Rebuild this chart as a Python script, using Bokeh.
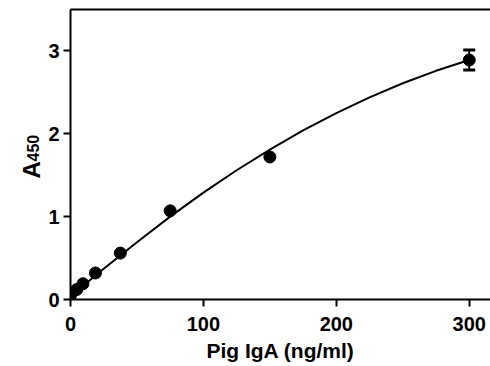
from bokeh.plotting import figure
from bokeh.models import Range1d, LinearAxis, FixedTicker, Whisker, ColumnDataSource, Label, TeeHead
from bokeh.embed import file_html
from bokeh.resources import INLINE
import math

# Data
conc = [0, 4.69, 9.38, 18.75, 37.5, 75, 150, 300]
a450 = [0.05, 0.12, 0.19, 0.32, 0.56, 1.07, 1.72, 2.89]
sem = [0.0, 0.0, 0.0, 0.0, 0.0, 0.0, 0.0, 0.12]

fit_x = [0, 25, 50, 75, 100, 125, 150, 175, 200, 225, 250, 275, 300]
fit_y = [0.04, 0.37, 0.69, 1.00, 1.29, 1.56, 1.81, 2.04, 2.25, 2.44, 2.61, 2.76, 2.89]

x_ticks = [0, 100, 200, 300]
y_ticks = [0, 1, 2, 3]

FONT = "Liberation Sans"

p = figure(width=490, height=366, x_range=Range1d(0, 316), y_range=Range1d(0, 3.5),
           output_backend="svg", toolbar_location=None,
           min_border_left=70, min_border_right=0, min_border_top=9, min_border_bottom=67)
p.outline_line_color = None
p.grid.visible = False
p.background_fill_color = "white"
p.border_fill_color = "white"

p.line(fit_x, fit_y, line_color="black", line_width=2)
p.scatter(conc, a450, size=12, color="black")

ex = [x for x, e in zip(conc, sem) if e > 0.05]
ey = [y for y, e in zip(a450, sem) if e > 0.05]
ee = [e for e in sem if e > 0.05]
src = ColumnDataSource(dict(x=ex, lower=[y - e for y, e in zip(ey, ee)], upper=[y + e for y, e in zip(ey, ee)]))
w = Whisker(base="x", lower="lower", upper="upper", source=src, line_width=2, line_color="black",
            upper_head=TeeHead(size=12, line_width=3, line_color="black"),
            lower_head=TeeHead(size=12, line_width=3, line_color="black"))
p.add_layout(w)

for ax in (p.xaxis[0], p.yaxis[0]):
    ax.axis_line_width = 2
    ax.major_tick_line_width = 2
    ax.major_tick_out = 7
    ax.major_tick_in = 0
    ax.minor_tick_line_color = None
    ax.major_label_text_font = FONT
    ax.major_label_text_font_style = "bold"
    ax.major_label_text_font_size = "20px"
    ax.major_label_text_color = "black"

p.xaxis.ticker = FixedTicker(ticks=x_ticks)
p.yaxis.ticker = FixedTicker(ticks=y_ticks)
p.xaxis.major_label_standoff = 10
p.yaxis.major_label_standoff = 4
p.xaxis.axis_label = "Pig IgA (ng/ml)"
p.xaxis.axis_label_text_font = FONT
p.xaxis.axis_label_text_font_style = "bold"
p.xaxis.axis_label_text_font_size = "21px"
p.xaxis.axis_label_text_color = "black"
p.xaxis.axis_label_standoff = 5

top = LinearAxis(ticker=FixedTicker(ticks=[]), major_label_text_font_size="0px",
                 axis_line_width=2, major_tick_line_color=None, minor_tick_line_color=None)
p.add_layout(top, "above")

lab_a = Label(x=31, y=178, x_units="canvas", y_units="canvas", text="A", angle=math.pi / 2,
              text_font=FONT, text_font_style="bold",
              text_font_size="24px", text_baseline="alphabetic", text_align="left", text_color="black")
lab_s = Label(x=32, y=161, x_units="canvas", y_units="canvas", text="450", angle=math.pi / 2,
              text_font=FONT, text_font_style="bold",
              text_font_size="16px", text_baseline="alphabetic", text_align="left", text_color="black")
p.add_layout(lab_a, "left")
p.add_layout(lab_s, "left")

open("out.html", "w").write(file_html(p, INLINE))
